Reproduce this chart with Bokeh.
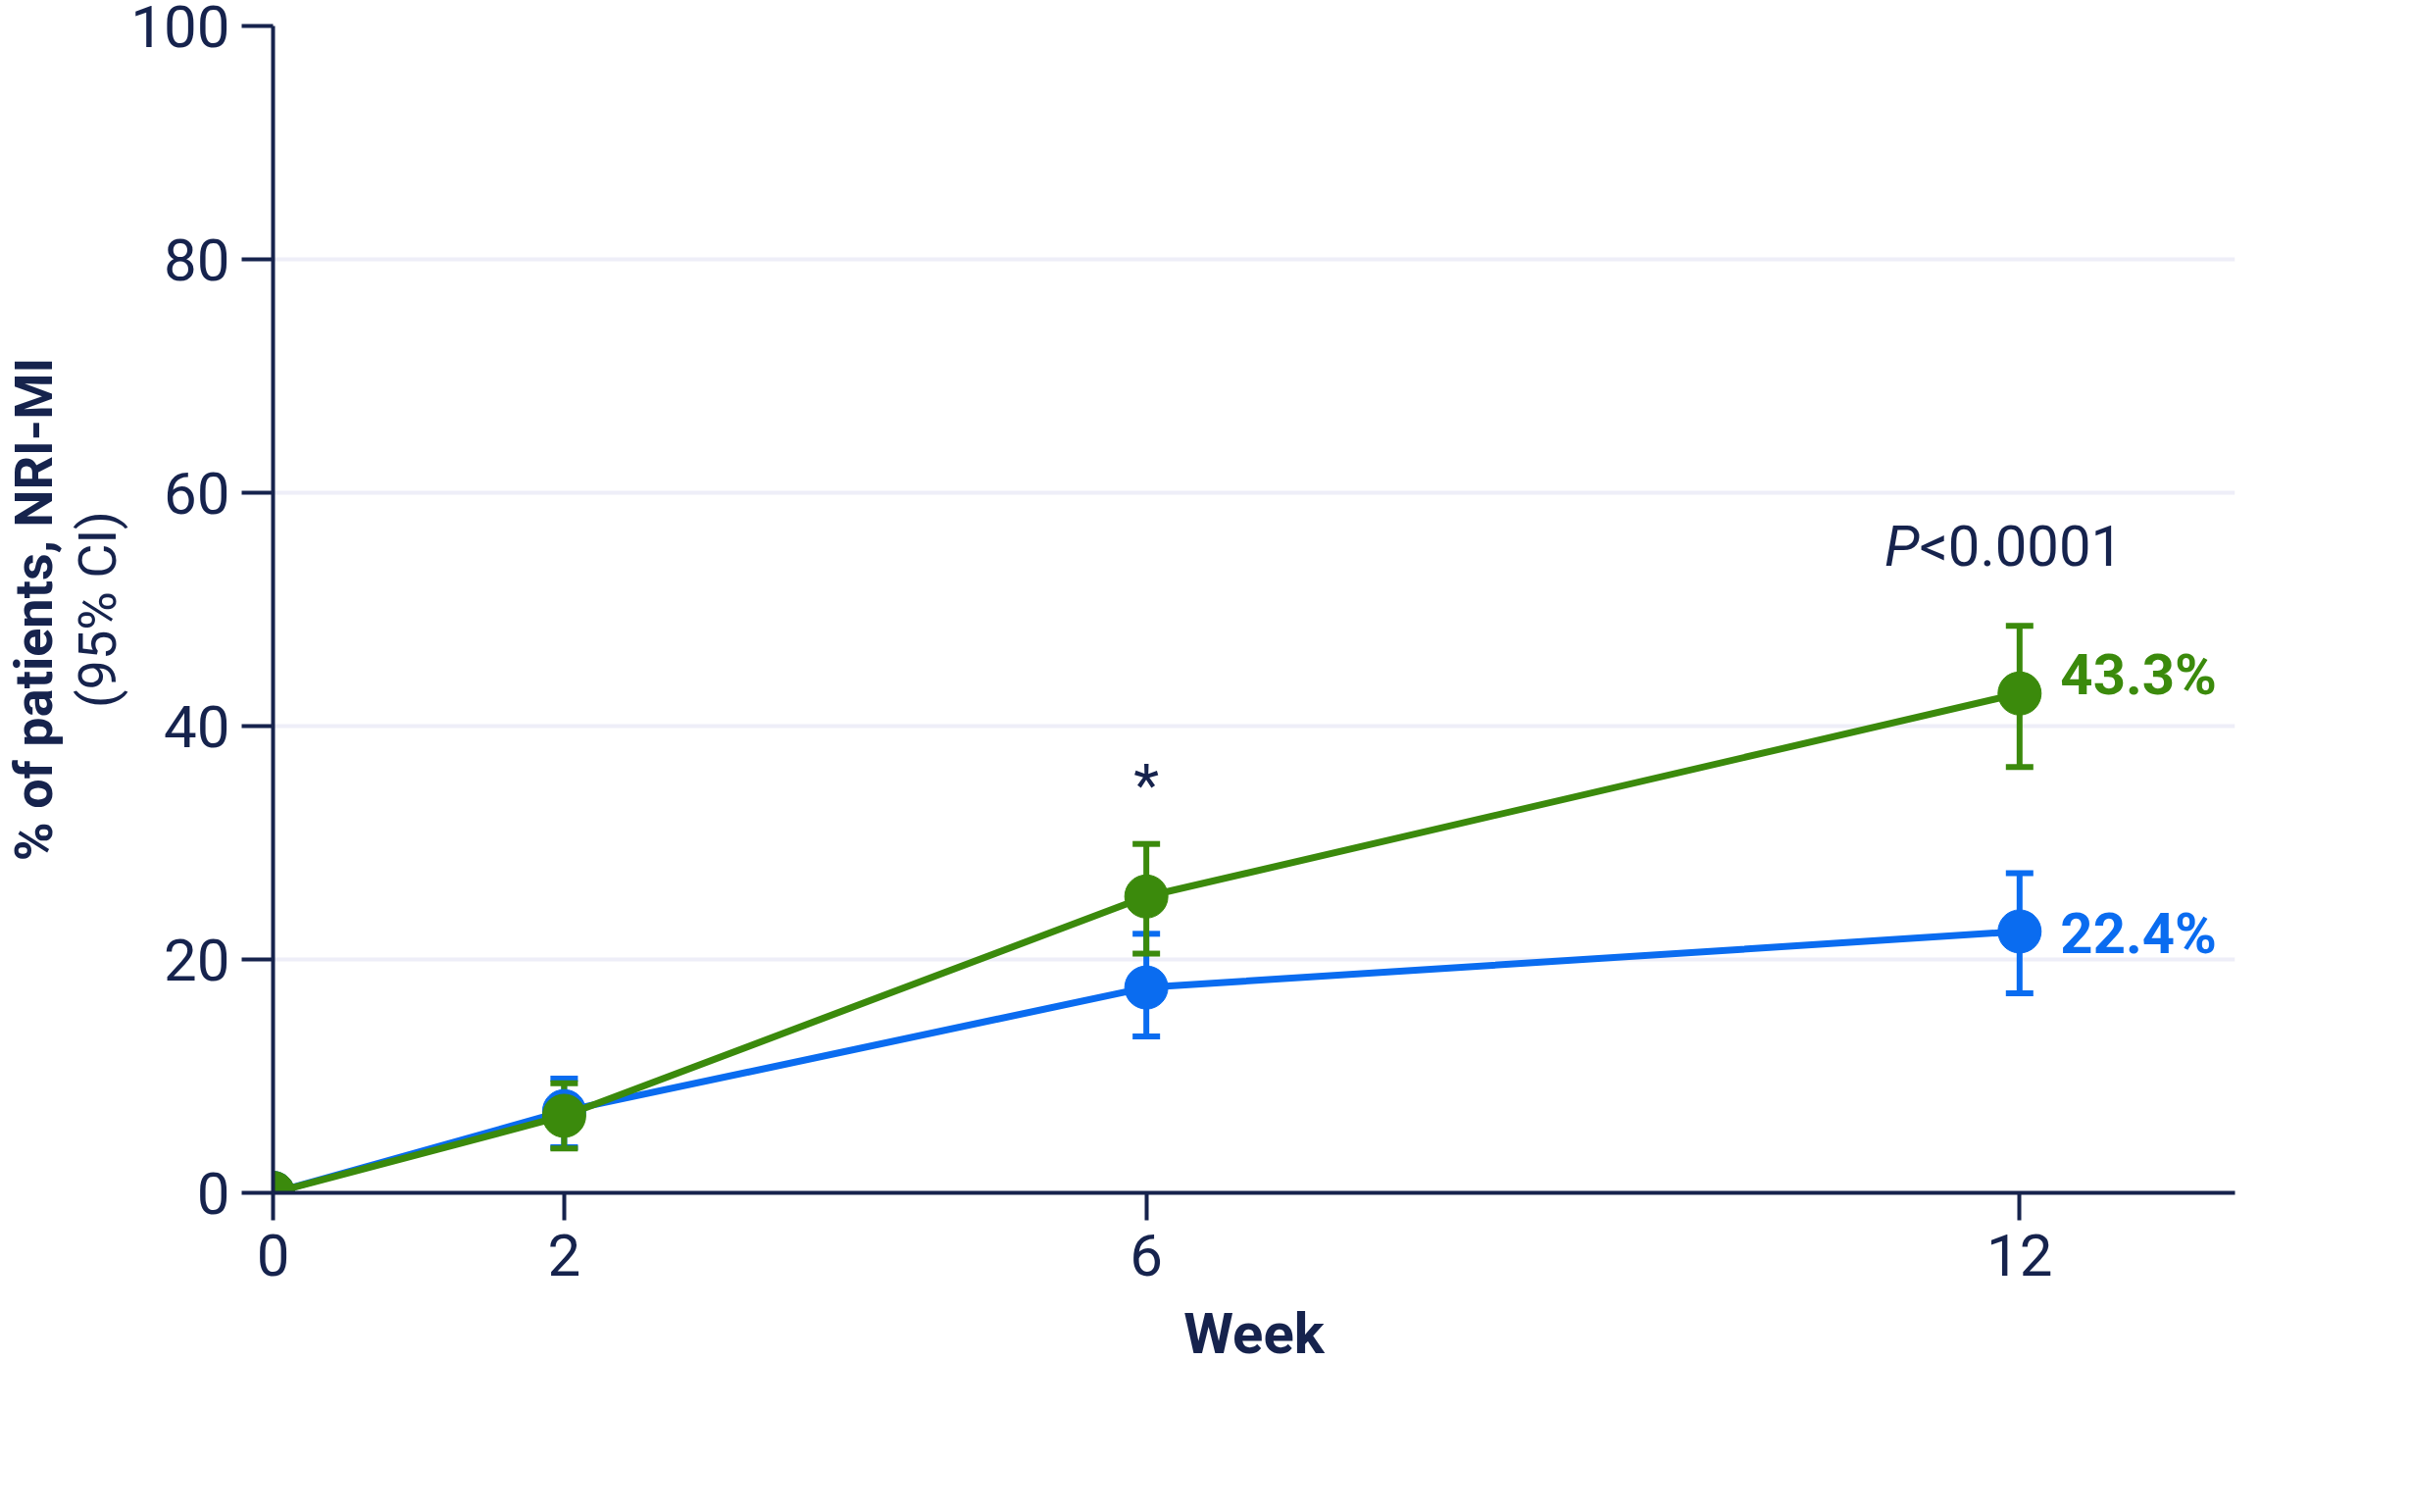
from bokeh.plotting import figure
from bokeh.models import (ColumnDataSource, Whisker, FixedTicker, Legend, LegendItem, Title, Range1d)
from bokeh.core.properties import value
from bokeh.embed import file_html
from bokeh.resources import INLINE

weeks = [0, 2, 6, 12]
ada = [0.0, 7.0, 17.6, 22.4]
ada_lo = [0.0, 3.9, 13.4, 17.1]
ada_hi = [0.0, 9.8, 22.2, 27.4]
upa = [0.0, 6.6, 25.4, 42.8]
upa_lo = [0.0, 3.8, 20.5, 36.5]
upa_hi = [0.0, 9.4, 29.9, 48.6]
series_names = ["ADA + MTX (n=246)", "UPA15 + MTX (n=245)"]
end_labels = ["22.4%", "43.3%"]

NAVY = "#16234d"
BLUE = "#0a6cf0"
GREEN = "#3b8a0c"
FONT = "Roboto"

p = figure(frame_width=2001, frame_height=1190, output_backend="svg", toolbar_location=None,
           x_range=Range1d(0, 13.48), y_range=Range1d(0, 100),
           min_border_left=100, min_border_top=26, min_border_right=110, min_border_bottom=10)
p.outline_line_color = None
p.xgrid.grid_line_color = None
p.ygrid.grid_line_color = "#eeeef8"
p.ygrid.grid_line_width = 4

for ax in (p.xaxis[0], p.yaxis[0]):
    ax.axis_line_color = NAVY
    ax.axis_line_width = 4
    ax.major_tick_line_color = NAVY
    ax.major_tick_line_width = 4
    ax.minor_tick_line_color = None
    ax.major_label_text_font = FONT
    ax.major_label_text_font_size = "60px"
    ax.major_label_text_color = NAVY
p.xaxis.ticker = FixedTicker(ticks=weeks)
p.yaxis.ticker = FixedTicker(ticks=[0, 20, 40, 60, 80, 100])
p.xaxis.major_tick_out = 28
p.xaxis.major_tick_in = 0
p.yaxis.major_tick_out = 32
p.yaxis.major_tick_in = 0
p.xaxis.axis_label = "Week"
p.xaxis.axis_label_text_font = FONT
p.xaxis.axis_label_text_font_style = "bold"
p.xaxis.axis_label_text_font_size = "58px"
p.xaxis.axis_label_text_color = NAVY
p.xaxis.axis_label_standoff = 22
p.xaxis.major_label_standoff = 14
p.yaxis.major_label_standoff = 12

t2 = Title(text="(95% CI)", align="center", text_font=FONT, text_font_size="54px",
           text_font_style="normal", text_color=NAVY, standoff=0, offset=0)
t1 = Title(text="% of patients, NRI-MI", align="center", text_font=FONT, text_font_size="54px",
           text_font_style="bold", text_color=NAVY, standoff=0)
p.add_layout(t2, "left")
p.add_layout(t1, "left")

src_a = ColumnDataSource(dict(x=weeks, y=ada, lo=ada_lo, hi=ada_hi))
src_u = ColumnDataSource(dict(x=weeks, y=upa, lo=upa_lo, hi=upa_hi))

items = []
for src, col, name in ((src_a, BLUE, series_names[0]), (src_u, GREEN, series_names[1])):
    w = Whisker(source=src, base="x", lower="lo", upper="hi", line_color=col, line_width=6)
    w.upper_head.size = 28; w.lower_head.size = 28
    w.upper_head.line_color = col; w.lower_head.line_color = col
    w.upper_head.line_width = 6; w.lower_head.line_width = 6
    p.add_layout(w)
    l = p.line("x", "y", source=src, line_color=col, line_width=7)
    p.scatter("x", "y", source=src, size=44, fill_color=col, line_color=col)
    items.append(LegendItem(label=name, renderers=[l]))

p.text(x=[12.28, 12.28], y=[22.2, 44.4], text=end_labels, text_color=[BLUE, GREEN],
       text_font=value(FONT), text_font_size="58px", text_font_style="bold",
       text_baseline="middle", text_align="left")
p.text(x=[6], y=[35], text=["*"], text_color=NAVY, text_font=value(FONT),
       text_font_size="60px", text_baseline="middle", text_align="center")
p.text(x=[11.31], y=[55.4], text=["P"], text_color=NAVY, text_font=value(FONT),
       text_font_size="58px", text_font_style="italic", text_baseline="middle", text_align="right")
p.text(x=[11.31], y=[55.4], text=["<0.0001"], text_color=NAVY, text_font=value(FONT),
       text_font_size="58px", text_baseline="middle", text_align="left")

leg = Legend(items=items, orientation="horizontal", location=(-90, 0),
             label_text_font=FONT, label_text_font_size="58px", label_text_color=NAVY,
             label_text_font_style="bold",
             glyph_width=110, glyph_height=40, spacing=80, label_standoff=40,
             border_line_color=None, background_fill_alpha=0, margin=60, padding=10)
leg.margin = 0
p.add_layout(leg, "below")
p.xaxis.axis_label_standoff = 22

open("out.html", "w").write(file_html(p, INLINE))
